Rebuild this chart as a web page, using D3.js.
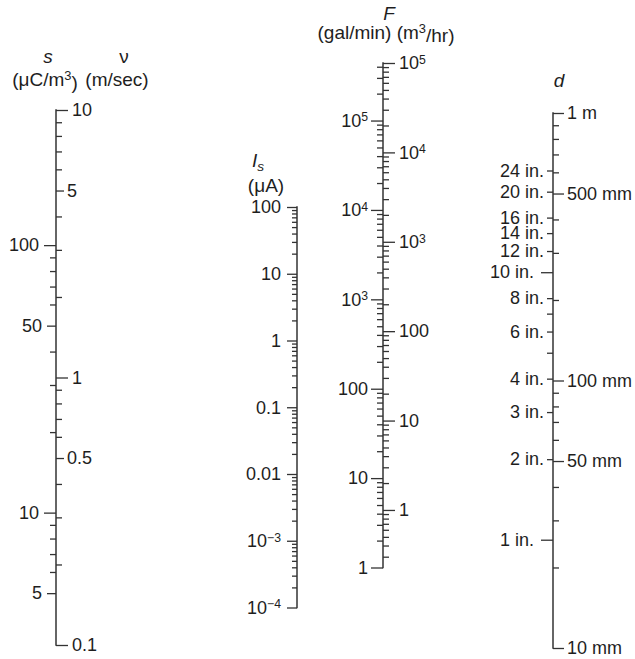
<!DOCTYPE html>
<html>
<head>
<meta charset="utf-8">
<script src="https://cdn.jsdelivr.net/npm/d3@7"></script>
<style>
  html, body { margin: 0; padding: 0; background: #fff; }
  svg { display: block; }
  text { font-family: "Liberation Sans", Arial, Helvetica, sans-serif; fill: #1e1e1e; }
</style>
</head>
<body>
<svg id="chart" width="635" height="659"></svg>
<script>
// ---------------- DATA ----------------
// Left scale: velocity v (m/sec) on the right side, charge density s (uC/m^3) on the left side
const nuDomain = [0.1, 10];
const nuMajor = [10, 5, 1, 0.5, 0.1];
const nuMajorLabels = ["10", "5", "1", "0.5", "0.1"];
const nuMinor = [9, 8, 7, 6, 4, 3, 2, 0.9, 0.8, 0.7, 0.6, 0.4, 0.3, 0.2];
const sDomain = [3.2, 320];
const sMajor = [100, 50, 10, 5];
const sMajorLabels = ["100", "50", "10", "5"];
const sMinor = [90, 80, 70, 60, 40, 30, 20, 9, 8, 7, 6];

// Streaming current Is (uA)
const isDomain = [1e-4, 100];
const isMajor = [100, 10, 1, 0.1, 0.01, 1e-3, 1e-4];
const isMajorLabels = ["100", "10", "1", "0.1", "0.01", "10^−3", "10^−4"];
const isMinorMult = [2, 3, 4, 5, 6, 7, 8, 9];

// Flow F: m3/hr on the right, gal/min on the left
const galPerM3hr = 4.403;
const m3Domain = [1 / 4.403, 1e5];
const m3Major = [1e5, 1e4, 1e3, 100, 10, 1];
const m3MajorLabels = ["10^5", "10^4", "10^3", "100", "10", "1"];
const galMajor = [1e5, 1e4, 1e3, 100, 10, 1];
const galMajorLabels = ["10^5", "10^4", "10^3", "100", "10", "1"];
const fMinorMult = [2, 3, 4, 5, 6, 7, 8, 9];

// Pipe diameter d: mm on the right, inches on the left
const mmDomain = [10, 1000];
const mmMajor = [1000, 500, 100, 50, 10];
const mmMajorLabels = ["1 m", "500 mm", "100 mm", "50 mm", "10 mm"];
const mmMinor = [900, 800, 700, 600, 400, 300, 200, 90, 80, 70, 60, 40, 30, 20];
const mmPerInch = 25.4;
const inLong = [10, 1];
const inLongLabels = ["10 in.", "1 in."];
const inShort = [24, 20, 16, 14, 12, 8, 6, 4, 3, 2];
const inShortLabels = ["24 in.", "20 in.", "16 in.", "14 in.", "12 in.", "8 in.", "6 in.", "4 in.", "3 in.", "2 in."];
const inMinor = [7, 5];

// ---------------- DRAW ----------------
const svg = d3.select("#chart");
const INK = "#333";
const FS = 18;   // tick labels
const HFS = 19;  // headers

function decadeMinor(domain, mult) {
  const out = [];
  const lo = Math.floor(Math.log10(domain[0])), hi = Math.ceil(Math.log10(domain[1]));
  for (let e = lo; e <= hi; e++) {
    mult.forEach(m => {
      const v = m * Math.pow(10, e);
      if (v >= domain[0] * 0.9999 && v <= domain[1] * 1.0001) out.push(v);
    });
  }
  return out;
}

function superscriptify(sel) {
  sel.each(function () {
    const t = d3.select(this);
    const s = t.text();
    if (s.indexOf("^") < 0) return;
    const [b, e] = s.split("^");
    t.text(null);
    t.append("tspan").text(b);
    t.append("tspan").attr("dy", "-0.45em").attr("font-size", FS * 0.68).text(e);
  });
}

// place a set of ticks (with optional labels) through a d3 axis generator
function axisSet(scale, x, side, values, size, pad, labels) {
  const gen = (side < 0 ? d3.axisLeft(scale) : d3.axisRight(scale))
    .tickValues(values)
    .tickSize(size)
    .tickPadding(pad)
    .tickFormat((d, i) => labels ? labels[i] : "");
  const g = svg.append("g")
    .attr("transform", `translate(${x},0)`)
    .call(gen);
  g.select(".domain").remove();
  g.attr("font-family", null).attr("font-size", null);
  g.selectAll(".tick line").attr("stroke", INK).attr("stroke-width", 1.3);
  g.selectAll(".tick text").attr("font-size", FS).attr("fill", "#1e1e1e").call(superscriptify);
  return g;
}

function axisLine(scale, x) {
  const r = scale.range();
  svg.append("line")
    .attr("x1", x).attr("x2", x)
    .attr("y1", r[0] + 0.65).attr("y2", r[1] - 0.65)
    .attr("stroke", INK).attr("stroke-width", 1.5);
}

const isDecade = v => Math.abs(Math.log10(v) % 1) < 1e-9;

// ---- Left axis: s and v ----
const xL = 56;
const nuScale = d3.scaleLog().domain(nuDomain).range([645, 110]);
const sScale = d3.scaleLog().domain(sDomain).range([645, 110]);
axisLine(nuScale, xL);
axisSet(nuScale, xL, 1, nuMinor, 6, 0);
axisSet(nuScale, xL, 1, nuMajor.filter(isDecade), 12, 4,
        nuMajorLabels.filter((l, i) => isDecade(nuMajor[i])));
axisSet(nuScale, xL, 1, nuMajor.filter(v => !isDecade(v)), 8, 3,
        nuMajorLabels.filter((l, i) => !isDecade(nuMajor[i])));
axisSet(sScale, xL, -1, sMinor, 6, 0);
axisSet(sScale, xL, -1, sMajor.filter(isDecade), 12, 5,
        sMajorLabels.filter((l, i) => isDecade(sMajor[i])));
axisSet(sScale, xL, -1, sMajor.filter(v => !isDecade(v)), 9, 5,
        sMajorLabels.filter((l, i) => !isDecade(sMajor[i])));

// ---- Is axis ----
const xI = 297;
const isScale = d3.scaleLog().domain(isDomain).range([607.5, 207]);
axisLine(isScale, xI);
axisSet(isScale, xI, -1, decadeMinor(isDomain, isMinorMult), 5, 0);
axisSet(isScale, xI, -1, isMajor, 10, 6, isMajorLabels);

// ---- F axis ----
const xF = 383;
const m3Scale = d3.scaleLog().domain(m3Domain).range([567.5, 63]);
const galScale = d3.scaleLog().domain(m3Domain.map(v => v * galPerM3hr)).range([567.5, 63]);
axisLine(m3Scale, xF);
axisSet(m3Scale, xF, 1, decadeMinor(m3Domain, fMinorMult), 6, 0);
axisSet(galScale, xF, -1, decadeMinor(galScale.domain(), fMinorMult), 6, 0);
axisSet(m3Scale, xF, 1, m3Major, 12, 4, m3MajorLabels);
axisSet(galScale, xF, -1, galMajor, 12, 3, galMajorLabels);

// ---- d axis ----
const xD = 553;
const mmScale = d3.scaleLog().domain(mmDomain).range([648, 113]);
axisLine(mmScale, xD);
axisSet(mmScale, xD, 1, mmMinor, 6, 0);
axisSet(mmScale, xD, 1, mmMajor, 11, 3, mmMajorLabels);
axisSet(mmScale, xD, -1, inMinor.map(v => v * mmPerInch), 6, 0);
axisSet(mmScale, xD, -1, inShort.map(v => v * mmPerInch), 6, 3, inShortLabels);
axisSet(mmScale, xD, -1, inLong.map(v => v * mmPerInch), 12, 7, inLongLabels);

// ---------------- HEADERS ----------------
function head(x, y, parts, anchor) {
  const t = svg.append("text").attr("x", x).attr("y", y)
    .attr("text-anchor", anchor || "middle").attr("font-size", HFS);
  parts.forEach(p => {
    const ts = t.append("tspan").text(p.t);
    if (p.i) ts.attr("font-style", "italic");
    if (p.sup) ts.attr("dy", "-0.45em").attr("font-size", HFS * 0.68);
    if (p.unsup) ts.attr("dy", "0.45em");
    if (p.sub) ts.attr("dy", "0.3em").attr("font-size", HFS * 0.72);
  });
  return t;
}
head(48, 63, [{t: "s", i: true}]);
head(124, 63, [{t: "ν"}]);
head(45, 86, [{t: "(μC/m"}, {t: "3", sup: true}, {t: ")", unsup: true}]);
head(117, 86, [{t: "(m/sec)"}]);

head(258, 167, [{t: "I", i: true}, {t: "s", i: true, sub: true}]);
head(266, 192, [{t: "(μA)"}]);

head(389, 20, [{t: "F", i: true}]);
head(386, 39, [{t: "(gal/min) (m"}, {t: "3", sup: true}, {t: "/hr)", unsup: true}]);

head(559, 87, [{t: "d", i: true}]);
</script>
</body>
</html>
